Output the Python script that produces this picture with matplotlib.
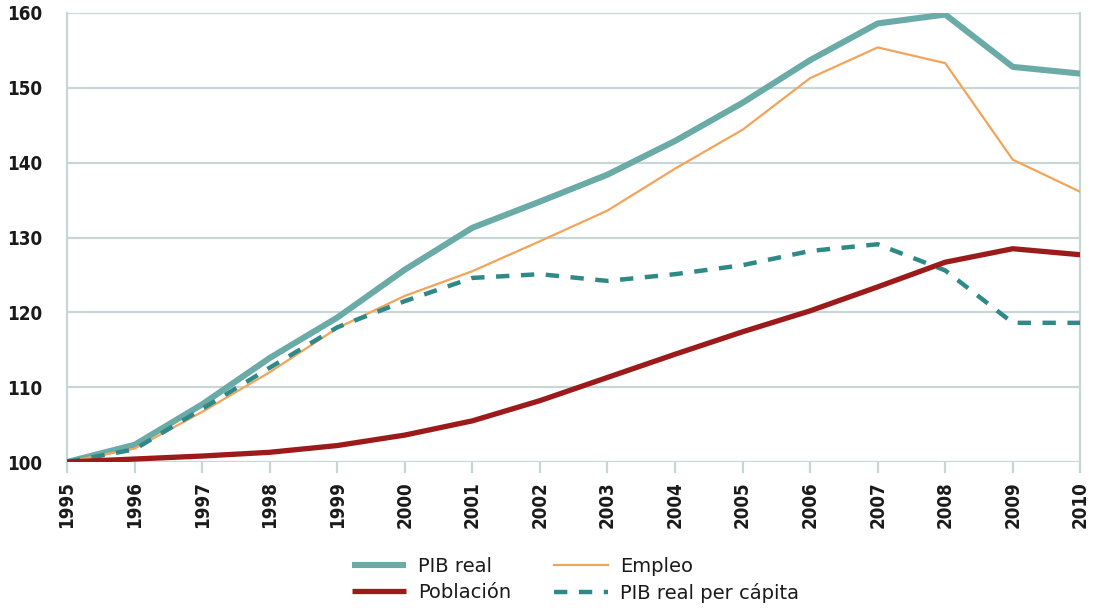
import matplotlib
matplotlib.use("Agg")
import matplotlib.pyplot as plt

years = list(range(1995, 2011))
pib_real = [100, 102.3, 107.7, 113.9, 119.3, 125.7, 131.3, 134.8, 138.4, 142.9,
            148.0, 153.7, 158.6, 159.8, 152.8, 151.9]
empleo = [100, 101.8, 106.7, 112.0, 117.9, 122.2, 125.5, 129.5, 133.6, 139.2,
          144.4, 151.3, 155.4, 153.3, 140.4, 136.1]
poblacion = [100, 100.4, 100.8, 101.3, 102.2, 103.6, 105.5, 108.2, 111.3, 114.4,
             117.4, 120.2, 123.4, 126.7, 128.5, 127.7]
pib_pc = [100, 101.7, 107.1, 112.6, 118.0, 121.5, 124.6, 125.1, 124.2, 125.1,
          126.3, 128.2, 129.1, 125.6, 118.6, 118.6]

teal = "#6aaba8"
teal_dark = "#2f8a87"
orange = "#f2a45a"
red = "#9c1a1a"
grid_c = "#c9d6d6"
text_c = "#1a1a1a"

plt.rcParams["font.family"] = ["DejaVu Sans"]
plt.rcParams["font.stretch"] = "condensed"
plt.rcParams["font.weight"] = "bold"

fig = plt.figure(figsize=(10.99, 6.13), dpi=100)
ax = fig.add_axes([0.061, 0.2463, 0.922, 0.7325])

ax.plot(years, pib_real, color=teal, lw=4.4, label="PIB real", solid_capstyle="butt", zorder=3)
ax.plot(years, empleo, color=orange, lw=1.6, label="Empleo", zorder=3)
ax.plot(years, poblacion, color=red, lw=3.8, label="Población", solid_capstyle="butt", zorder=4)
ax.plot(years, pib_pc, color=teal_dark, lw=3.2, ls=(0, (3, 2.6)), label="PIB real per cápita", zorder=3)

ax.set_xlim(1995, 2010)
ax.set_ylim(100, 160)
ax.set_yticks(range(100, 161, 10))
ax.set_xticks(years)
ax.set_xticklabels([str(y) for y in years], rotation=90)
ax.grid(axis="y", color=grid_c, lw=1.6)
ax.set_axisbelow(True)

for side in ("top", "bottom"):
    ax.spines[side].set_visible(False)
for side in ("left", "right"):
    ax.spines[side].set_color(grid_c)
    ax.spines[side].set_linewidth(1.6)
ax.tick_params(axis="y", length=0, pad=18, labelsize=13.5, labelcolor=text_c)
ax.tick_params(axis="x", length=8, width=1.6, color=grid_c, pad=6, labelsize=13.5, labelcolor=text_c)

handles, labels = ax.get_legend_handles_labels()
order = [0, 2, 1, 3]
leg = fig.legend([handles[i] for i in order], [labels[i] for i in order],
                 loc="center", bbox_to_anchor=(0.524, 0.054), ncol=2, frameon=False,
                 prop={"size": 14, "weight": "normal", "stretch": "normal"},
                 handlelength=2.75, handletextpad=0.65, columnspacing=2.2,
                 labelspacing=0.4)
for t in leg.get_texts():
    t.set_color(text_c)

fig.savefig("out.png", dpi=100)
